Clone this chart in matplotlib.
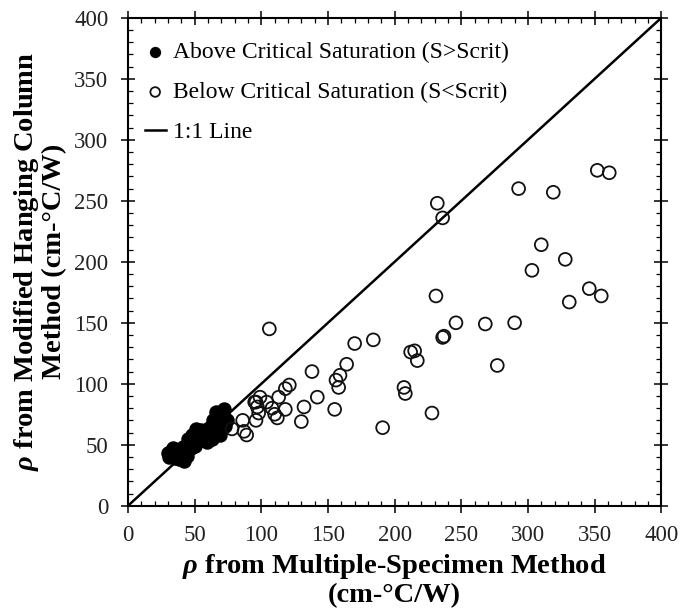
import matplotlib
matplotlib.use("Agg")
import matplotlib.pyplot as plt
from matplotlib.ticker import MultipleLocator

plt.rcParams['font.family'] = ['Liberation Serif', 'DejaVu Serif']
plt.rcParams['mathtext.fontset'] = 'custom'
plt.rcParams['mathtext.rm'] = 'Liberation Serif'
plt.rcParams['mathtext.it'] = 'Liberation Serif:italic:bold'
plt.rcParams['mathtext.bf'] = 'Liberation Serif:bold'

# Above critical saturation (filled markers)
above_x = [30, 31, 32, 33, 34, 35, 36, 37, 38, 39, 40, 41, 42, 43, 44, 45, 46, 47,
           48, 49, 50, 51, 52, 53, 54, 55, 56, 57, 58, 59, 60, 61, 62, 63, 64, 65,
           66, 67, 68, 69, 70, 71, 72, 73, 74, 35, 44, 50, 60, 66]
above_y = [43, 40, 45, 42, 47, 44, 40, 46, 38, 43, 41, 48, 37, 45, 50, 55, 52, 47,
           58, 53, 49, 63, 57, 60, 54, 62, 58, 55, 61, 52, 57, 64, 60, 55, 70, 66,
           77, 62, 72, 58, 68, 75, 79, 65, 70, 39, 41, 56, 63, 73]

# Below critical saturation (open markers)
below_x = [106, 232, 236, 293, 319, 352, 361, 310, 303, 328, 331, 346, 355, 231,
           246, 268, 290, 236, 237, 277, 184, 170, 212, 215, 217, 207, 208, 228,
           191, 164, 159, 156, 158, 155, 138, 142, 121, 118, 118, 132, 130, 113,
           112, 110, 108, 104, 99, 96, 97, 98, 96, 86, 87, 89, 78, 95]
below_y = [145, 248, 236, 260, 257, 275, 273, 214, 193, 202, 167, 178, 172, 172,
           150, 149, 150, 138, 139, 115, 136, 133, 126, 127, 119, 97, 92, 76,
           64, 116, 107, 103, 97, 79, 110, 89, 99, 96, 79, 81, 69, 89,
           72, 75, 80, 85, 89, 85, 81, 76, 70, 70, 61, 58, 63, 85]

line_x = [0, 400]
line_y = [0, 400]

fig = plt.figure(figsize=(6.81, 6.16), dpi=100)
ax = fig.add_axes([0.188, 0.179, 0.783, 0.792])

ax.scatter(above_x, above_y, s=85, facecolor='black', edgecolor='black',
           linewidth=1.2, zorder=3, label='Above Critical Saturation (S>Scrit)')
ax.scatter(below_x, below_y, s=85, facecolor='none', edgecolor='#111111',
           linewidth=1.3, zorder=3, label='Below Critical Saturation (S<Scrit)')
ax.plot(line_x, line_y, color='black', linewidth=1.8, zorder=2, label='1:1 Line')

ax.set_xlim(0, 400)
ax.set_ylim(0, 400)
ax.xaxis.set_major_locator(MultipleLocator(50))
ax.yaxis.set_major_locator(MultipleLocator(50))
ax.xaxis.set_minor_locator(MultipleLocator(10))
ax.yaxis.set_minor_locator(MultipleLocator(10))
ax.tick_params(which='major', direction='inout', length=9.4, width=1.1,
               top=True, right=True, labelsize=16.5, pad=9.5, colors='black',
               labelcolor='#222222')
ax.tick_params(which='minor', direction='in', length=3.6, width=0.9,
               top=True, right=True)
for sp in ax.spines.values():
    sp.set_linewidth(1.5)

ax.set_xlabel(r'$\rho$ from Multiple-Specimen Method' + '\n(cm-°C/W)',
              fontsize=20.5, fontweight='bold', labelpad=4, linespacing=1.1)
ax.set_ylabel(r'$\rho$ from Modified Hanging Column' + '\nMethod (cm-°C/W)',
              fontsize=20.5, fontweight='bold', labelpad=5, linespacing=1.05)

leg = ax.legend(loc='upper left', frameon=False, fontsize=17, markerscale=0.75,
                handlelength=0.9, handletextpad=0.3, labelspacing=0.78,
                borderaxespad=0.3, bbox_to_anchor=(0.0, 0.985))

fig.savefig('out.png', dpi=100)
